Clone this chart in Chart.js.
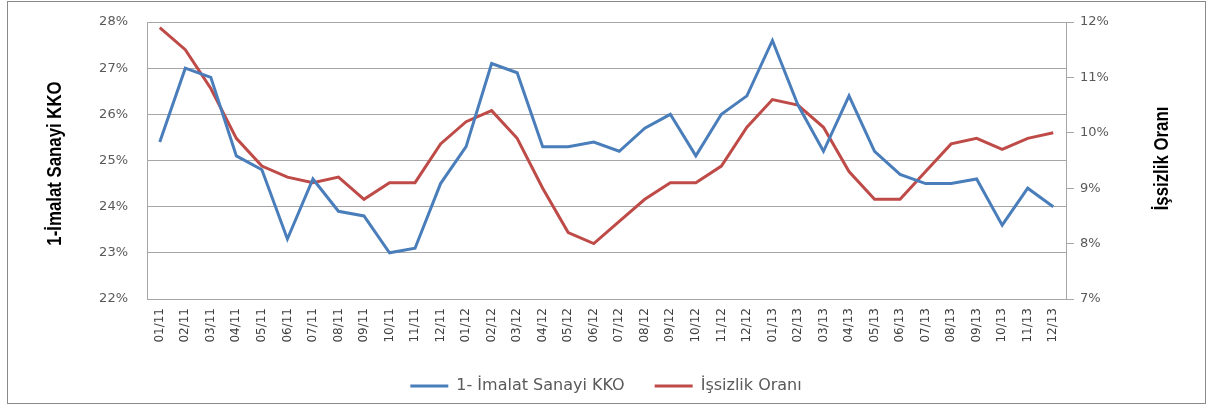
<!DOCTYPE html>
<html>
<head>
<meta charset="utf-8">
<script src="https://cdn.jsdelivr.net/npm/chart.js@4/dist/chart.umd.min.js"></script>
<style>
  html, body { margin: 0; padding: 0; background: #fff; }
  #wrap { position: relative; width: 1212px; height: 410px; }
  #frame {
    position: absolute; left: 7px; top: 1px; width: 1197px; height: 401px;
    border: 1px solid #8a8a8a; pointer-events: none;
  }
</style>
</head>
<body>
<div id="wrap">
  <canvas id="chart"></canvas>
  <div id="frame"></div>
</div>
<script>
// Aylar (ay/yıl)
const months = [
  '01/11', '02/11', '03/11', '04/11', '05/11', '06/11', '07/11', '08/11', '09/11', '10/11', '11/11', '12/11',
  '01/12', '02/12', '03/12', '04/12', '05/12', '06/12', '07/12', '08/12', '09/12', '10/12', '11/12', '12/12',
  '01/13', '02/13', '03/13', '04/13', '05/13', '06/13', '07/13', '08/13', '09/13', '10/13', '11/13', '12/13',
];

// 1- İmalat Sanayi KKO (%)
const kko = [
  25.4, 27.0, 26.8, 25.1, 24.8, 23.3, 24.6, 23.9, 23.8, 23.0, 23.1, 24.5,
  25.3, 27.1, 26.9, 25.3, 25.3, 25.4, 25.2, 25.7, 26.0, 25.1, 26.0, 26.4,
  27.6, 26.2, 25.2, 26.4, 25.2, 24.7, 24.5, 24.5, 24.6, 23.6, 24.4, 24.0,
];

// İşsizlik Oranı (%)
const issizlik = [
  11.9, 11.5, 10.8, 9.9, 9.4, 9.2, 9.1, 9.2, 8.8, 9.1, 9.1, 9.8,
  10.2, 10.4, 9.9, 9.0, 8.2, 8.0, 8.4, 8.8, 9.1, 9.1, 9.4, 10.1,
  10.6, 10.5, 10.1, 9.3, 8.8, 8.8, 9.3, 9.8, 9.9, 9.7, 9.9, 10.0,
];

// eksen başlıkları
const leftTitle = '1-İmalat Sanayi KKO';
const rightTitle = 'İşsizlik Oranı';

const COLORS = {
  kko: '#4a7ebb',
  issizlik: '#be4b48',
  grid: '#a6a6a6',
  tick: '#595959',
};

const TICK_FONT = { family: "'DejaVu Sans', sans-serif", size: 13 };

// Excel'deki dar, kalın başlıklar: ikisi de aşağıdan yukarı okunuyor
const axisTitles = {
  id: 'axisTitles',
  afterDraw(chart) {
    const { ctx, chartArea } = chart;
    const draw = (text, x, y) => {
      ctx.save();
      ctx.translate(x, y);
      ctx.rotate(-Math.PI / 2);
      ctx.scale(0.8, 1);
      ctx.font = "bold 21px 'Liberation Sans', Arial, sans-serif";
      ctx.fillStyle = '#000';
      ctx.textAlign = 'center';
      ctx.textBaseline = 'middle';
      ctx.fillText(text, 0, 0);
      ctx.restore();
    };
    const midY = (chartArea.top + chartArea.bottom) / 2;
    draw(leftTitle, 55, midY + 3);
    draw(rightTitle, 1162, midY - 2);
  },
};

// dikey eksenlerin genişliği sabit; etiket taşma payı da sıfırlanıyor
const fixWidth = (w) => (s) => {
  s.width = w;
  s.paddingTop = 0;
  s.paddingBottom = 0;
};

new Chart(document.getElementById('chart'), {
  type: 'line',
  data: {
    labels: months,
    datasets: [
      {
        label: '1- İmalat Sanayi KKO',
        data: kko,
        yAxisID: 'y',
        borderColor: COLORS.kko,
        backgroundColor: COLORS.kko,
        borderWidth: 3,
        pointRadius: 0,
        tension: 0,
      },
      {
        label: 'İşsizlik Oranı',
        data: issizlik,
        yAxisID: 'y1',
        borderColor: COLORS.issizlik,
        backgroundColor: COLORS.issizlik,
        borderWidth: 3,
        pointRadius: 0,
        tension: 0,
      },
    ],
  },
  options: {
    responsive: true,
    maintainAspectRatio: false,
    animation: false,
    layout: { padding: { top: 22, bottom: 6 } },
    plugins: {
      tooltip: { enabled: false },
      legend: {
        position: 'bottom',
        labels: {
          usePointStyle: true,
          pointStyle: 'line',
          pointStyleWidth: 38,
          color: COLORS.tick,
          font: { family: "'DejaVu Sans', sans-serif", size: 16 },
          padding: 30,
        },
      },
    },
    scales: {
      x: {
        offset: true,
        grid: { display: true, drawOnChartArea: false, drawTicks: false },
        border: { display: true, color: COLORS.grid },
        ticks: {
          color: '#404040',
          font: { family: "'DejaVu Sans', sans-serif", size: 12 },
          minRotation: 90,
          maxRotation: 90,
          autoSkip: false,
          padding: 9,
        },
        afterFit: (s) => { s.height = 49; },
      },
      y: {
        position: 'left',
        min: 22,
        max: 28,
        ticks: {
          stepSize: 1,
          color: COLORS.tick,
          font: TICK_FONT,
          padding: 19,
          callback: (v) => `${v}%`,
        },
        grid: { color: COLORS.grid, drawTicks: false },
        border: { display: true, color: COLORS.grid },
        afterFit: fixWidth(147),
      },
      y1: {
        position: 'right',
        min: 7,
        max: 12,
        ticks: {
          stepSize: 1,
          color: COLORS.tick,
          font: TICK_FONT,
          padding: 6,
          callback: (v) => `${v}%`,
        },
        grid: { color: COLORS.grid, drawOnChartArea: false, tickLength: 8 },
        border: { display: true, color: COLORS.grid },
        afterFit: fixWidth(146),
      },
    },
  },
  plugins: [axisTitles],
});
</script>
</body>
</html>
